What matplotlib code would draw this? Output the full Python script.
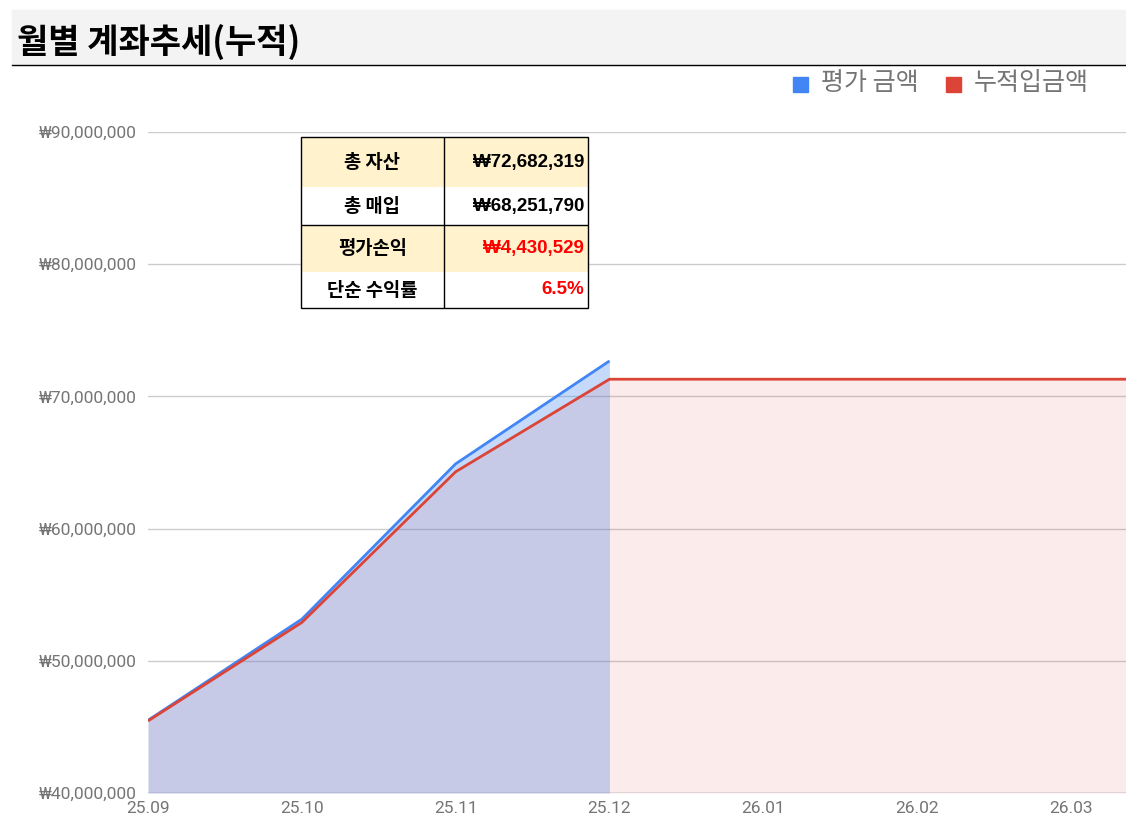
import matplotlib
matplotlib.use('Agg')
import matplotlib.pyplot as plt
from matplotlib.patches import Rectangle
from matplotlib.ticker import FuncFormatter, MultipleLocator

plt.rcParams['font.family'] = ['Roboto', 'Noto Sans CJK KR', 'DejaVu Sans']

# data (won)
months = ['25.09', '25.10', '25.11', '25.12', '26.01', '26.02', '26.03', '26.04']
eval_amount = [45500000, 53150000, 64900000, 72682319]
deposit_total = [45450000, 52900000, 64300000, 71300000, 71300000, 71300000, 71300000, 71300000]
series_names = ['평가 금액', '누적입금액']

table_labels = ['총 자산', '총 매입', '평가손익', '단순 수익률']
table_values = ['₩72,682,319', '₩68,251,790', '₩4,430,529', '6.5%']
table_colors = ['black', 'black', '#ff0000', '#ff0000']
table_fill = ['#fff2cc', 'white', '#fff2cc', 'white']

BLUE = '#4285f4'
RED = '#db4437'
GRAY = '#757575'

W, H = 1126, 831
fig = plt.figure(figsize=(W / 100, H / 100), dpi=100)

def fx(px):
    return px / W

def fy(py):
    return 1 - py / H

# title band
fig.patches.append(Rectangle((fx(12), fy(65)), fx(1126 - 12), 55 / H,
                             transform=fig.transFigure, color='#f3f3f3', zorder=0))
fig.add_artist(plt.Line2D([fx(12), 1], [fy(65), fy(65)], transform=fig.transFigure,
                          color='black', lw=1))
fig.text(fx(17), fy(42), '월별 계좌추세(누적)', fontsize=24.5, fontweight='bold',
         family=['Noto Sans CJK KR', 'DejaVu Sans'], va='center', ha='left')

# main axes
ax = fig.add_axes([fx(148), fy(793), fx(1126 - 148), (793 - 132) / H])
x_all = list(range(len(months)))
x_eval = x_all[:len(eval_amount)]
base = 40000000

ax.fill_between(x_eval, eval_amount, base, color=BLUE, alpha=0.3, lw=0, zorder=2)
ax.fill_between(x_all, deposit_total, base, color=RED, alpha=0.1, lw=0, zorder=3)
ax.plot(x_eval, eval_amount, color=BLUE, lw=2, zorder=4, solid_capstyle='butt')
ax.plot(x_all, deposit_total, color=RED, lw=2, zorder=5, solid_capstyle='butt')

ax.set_xticks(x_all)
ax.set_xticklabels(months)
ax.set_xlim(0, (1126 - 148) / 153.83)
ax.set_ylim(40000000, 90000000)
ax.yaxis.set_major_locator(MultipleLocator(10000000))
ax.yaxis.set_major_formatter(FuncFormatter(lambda v, p: '₩{:,.0f}'.format(v)))
ax.grid(axis='y', color='#cccccc', lw=1, zorder=1)
ax.set_axisbelow(True)
for s in ax.spines.values():
    s.set_visible(False)
ax.tick_params(axis='both', length=0, colors=GRAY, labelsize=12.5)
ax.tick_params(axis='y', pad=8)
ax.tick_params(axis='x', pad=6)
ax.axhline(base, color='#9a9ab8', lw=1, zorder=6)

# legend
lx = [793, 946]
for i, name in enumerate(series_names):
    c = [BLUE, RED][i]
    fig.patches.append(Rectangle((fx(lx[i]), fy(92)), 15 / W, 15 / H,
                                 transform=fig.transFigure, color=c, zorder=3))
    fig.text(fx(lx[i] + 28), fy(83), name, fontsize=18, color=GRAY,
             family=['Noto Sans CJK KR', 'DejaVu Sans'], va='center', ha='left')

# summary table
tx0, tx1, tmid = 301, 588, 444
row_edges = [137, 187, 225, 272, 308]
text_y = [162, 207, 249, 290]
tab = fig.add_axes([fx(tx0), fy(row_edges[-1]), fx(tx1 - tx0), (row_edges[-1] - row_edges[0]) / H])
tab.set_xlim(tx0, tx1)
tab.set_ylim(row_edges[-1], row_edges[0])
tab.axis('off')
for i in range(len(table_labels)):
    top = row_edges[i]
    tab.add_patch(Rectangle((tx0, top), tx1 - tx0, row_edges[i + 1] - top, color=table_fill[i], lw=0))
    tab.text((tx0 + tmid) / 2, text_y[i], table_labels[i], ha='center', va='center',
             fontsize=13.5, fontweight='bold', family=['Noto Sans CJK KR', 'DejaVu Sans'])
    tab.text(tx1 - 4, text_y[i], table_values[i], ha='right', va='center',
             fontsize=13.5, fontweight='bold', color=table_colors[i],
             family=['Liberation Sans', 'DejaVu Sans'])
tab.add_patch(Rectangle((tx0, row_edges[0]), tx1 - tx0, row_edges[-1] - row_edges[0],
                        fill=False, ec='black', lw=1, clip_on=False))
tab.plot([tmid, tmid], [row_edges[0], row_edges[-1]], color='black', lw=1)
tab.plot([tx0, tx1], [row_edges[2], row_edges[2]], color='black', lw=1)

fig.savefig('out.png', dpi=100)
